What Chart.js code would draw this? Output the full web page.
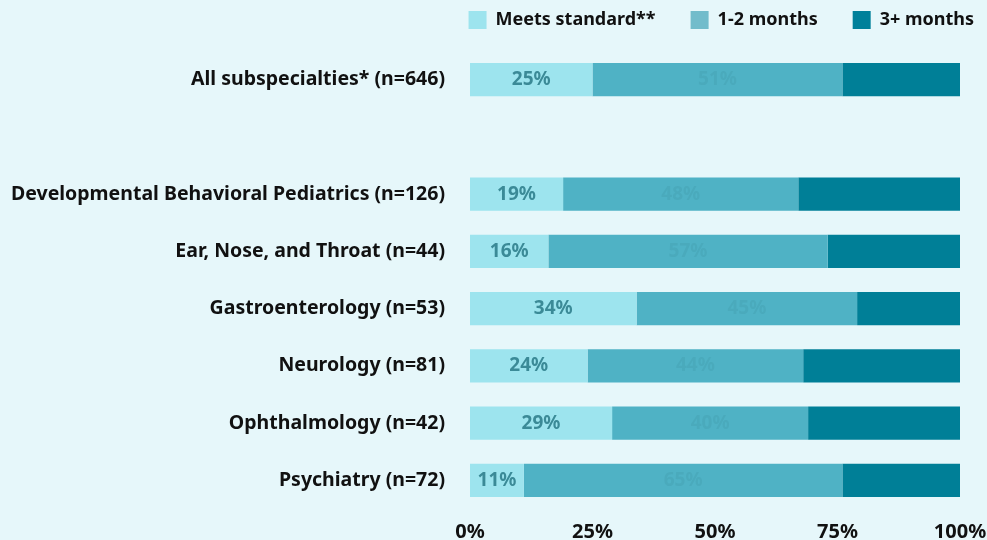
<!DOCTYPE html>
<html>
<head>
<meta charset="utf-8">
<script src="https://cdn.jsdelivr.net/npm/chart.js@4.4.1/dist/chart.umd.min.js"></script>
<style>
  html, body { margin: 0; padding: 0; background: #e6f7fa; }
  #wrap { width: 987px; height: 540px; position: relative; }
</style>
</head>
<body>
<div id="wrap"><canvas id="waitChart"></canvas></div>
<script>
// Wait times for pediatric subspecialty appointments

const categories = [
    'All subspecialties* (n=646)',
    '',
    'Developmental Behavioral Pediatrics (n=126)',
    'Ear, Nose, and Throat (n=44)',
    'Gastroenterology (n=53)',
    'Neurology (n=81)',
    'Ophthalmology (n=42)',
    'Psychiatry (n=72)'
];
const seriesNames = ['Meets standard**', '1-2 months', '3+ months'];
const meetsStandard = [25, null, 19, 16, 34, 24, 29, 11];
const oneToTwoMonths = [51, null, 48, 57, 45, 44, 40, 65];
const threePlusMonths = [24, null, 33, 27, 21, 32, 31, 24];
const xTicks = [0, 25, 50, 75, 100];

const colors = ['#9de4ee', '#4fb2c5', '#007f97'];
const legendColors = ['#9de4ee', '#72bccb', '#00809a'];
const labelColors = ['#3b8a97', '#4aaabc'];
const fontFamily = "'Noto Sans', sans-serif";

// draws the % value in the middle of the first two segments
const segmentLabels = {
    id: 'segmentLabels',
    afterDatasetsDraw(chart) {
        const ctx = chart.ctx;
        ctx.save();
        ctx.font = 'bold 19px ' + fontFamily;
        ctx.textAlign = 'center';
        ctx.textBaseline = 'middle';
        [0, 1].forEach(di => {
            const ds = chart.data.datasets[di];
            chart.getDatasetMeta(di).data.forEach((bar, i) => {
                const v = ds.data[i];
                if (v == null) return;
                const p = bar.getProps(['x', 'y', 'base'], true);
                ctx.fillStyle = labelColors[di];
                ctx.fillText(v + '%', (p.x + p.base) / 2, p.y);
            });
        });
        ctx.restore();
    }
};

// legend: more room below it, and pushed to the right edge
const legendSpacing = {
    id: 'legendSpacing',
    beforeInit(chart) {
        const fit = chart.legend.fit;
        chart.legend.fit = function () {
            fit.call(this);
            this.height += 12;
        };
    },
    afterLayout(chart) {
        chart.legend.right += 22;
    }
};

new Chart(document.getElementById('waitChart'), {
    type: 'bar',
    data: {
        labels: categories,
        datasets: [meetsStandard, oneToTwoMonths, threePlusMonths].map((d, i) => ({
            label: seriesNames[i],
            data: d,
            backgroundColor: colors[i],
            borderWidth: 0,
            categoryPercentage: 1,
            barPercentage: 0.58
        }))
    },
    options: {
        indexAxis: 'y',
        responsive: true,
        maintainAspectRatio: false,
        animation: false,
        layout: { padding: { left: 0, right: 0, top: -24, bottom: -15 } },
        plugins: {
            legend: {
                position: 'top',
                align: 'end',
                labels: {
                    boxWidth: 18,
                    boxHeight: 18,
                    padding: 35,
                    color: '#111',
                    font: { family: fontFamily, size: 18, weight: 'bold' },
                    generateLabels: chart =>
                        Chart.defaults.plugins.legend.labels.generateLabels(chart).map((item, i) => {
                            item.fillStyle = legendColors[i];
                            return item;
                        })
                }
            },
            tooltip: { enabled: false }
        },
        scales: {
            x: {
                stacked: true,
                min: 0,
                max: 100,
                afterBuildTicks: scale => { scale.ticks = xTicks.map(v => ({ value: v })); },
                afterFit: scale => { scale.paddingRight = 27; },
                grid: { display: false, drawTicks: false },
                border: { display: false },
                ticks: {
                    padding: 11,
                    color: '#111',
                    font: { family: fontFamily, size: 20, weight: 'bold' },
                    callback: v => v + '%'
                }
            },
            y: {
                stacked: true,
                grid: { display: false, drawTicks: false },
                border: { display: false },
                afterFit: scale => {
                    scale.width = 470;
                    scale.paddingTop = 0;
                    scale.paddingBottom = 0;
                },
                ticks: {
                    padding: 25,
                    color: '#111',
                    font: { family: fontFamily, size: 19.5, weight: 'bold' }
                }
            }
        }
    },
    plugins: [segmentLabels, legendSpacing]
});
</script>
</body>
</html>
